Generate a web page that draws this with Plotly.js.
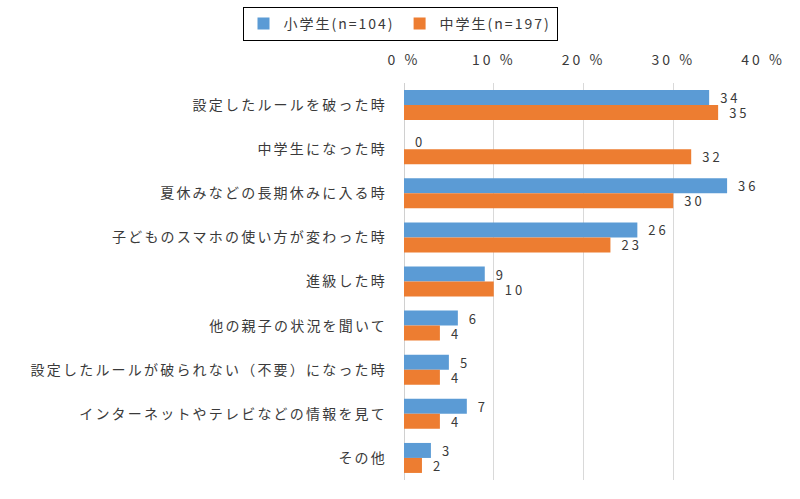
<!DOCTYPE html>
<html>
<head>
<meta charset="utf-8">
<script src="https://cdn.plot.ly/plotly-3.0.1.min.js"></script>
<style>
  html, body { margin: 0; padding: 0; background: #fff; }
  #chart { width: 800px; height: 499px; }
  .ytick text { letter-spacing: 2.2px; }
  .xtick text { letter-spacing: 3px; }
  .legendtext { letter-spacing: 2px; }
  .bartext { letter-spacing: 3px; }
</style>
</head>
<body>
<div id="chart"></div>
<script>
// Reasons for revisiting smartphone rules (%), by school level
const categories = [
  "設定したルールを破った時",
  "中学生になった時",
  "夏休みなどの長期休みに入る時",
  "子どものスマホの使い方が変わった時",
  "進級した時",
  "他の親子の状況を聞いて",
  "設定したルールが破られない（不要）になった時",
  "インターネットやテレビなどの情報を見て",
  "その他"
];
const elementary = [34, 0, 36, 26, 9, 6, 5, 7, 3];
const juniorHigh = [35, 32, 30, 23, 10, 4, 4, 4, 2];
const seriesNames = ["小学生(n=104)", "中学生(n=197)"];
const tickValues = [0, 10, 20, 30, 40];

const FONT = '"Noto Sans CJK JP", "Noto Sans", sans-serif';
const TEXT_COLOR = '#3a3a3a';
const LABEL_GAP = 8; // extra space between a bar end and its value label

function barTrace(name, values, color) {
  return {
    type: 'bar', orientation: 'h', name: name,
    y: categories, x: values,
    marker: { color: color },
    text: values.map(String), textposition: 'outside',
    constraintext: 'none',
    textfont: { family: FONT, size: 13, color: TEXT_COLOR },
    cliponaxis: false, hoverinfo: 'skip'
  };
}

const traces = [
  barTrace(seriesNames[0], elementary, '#5B9BD5'),
  barTrace(seriesNames[1], juniorHigh, '#ED7D31')
];

const layout = {
  width: 800, height: 499,
  margin: { l: 404, r: 37, t: 83, b: 19 },
  paper_bgcolor: '#fff', plot_bgcolor: '#fff',
  font: { family: FONT, color: TEXT_COLOR, size: 14 },
  barmode: 'group', bargap: 0.32, bargroupgap: 0,
  showlegend: true,
  legend: {
    orientation: 'h',
    xref: 'container', x: 0.5, xanchor: 'center',
    yref: 'container', y: 0.952, yanchor: 'middle',
    bordercolor: '#000', borderwidth: 1,
    itemwidth: 30,
    font: { family: FONT, size: 14, color: TEXT_COLOR },
    traceorder: 'normal'
  },
  xaxis: {
    side: 'top', range: [0, 40],
    tickmode: 'array', tickvals: tickValues, ticktext: tickValues.map(v => v + ' %'),
    showgrid: true, gridcolor: '#d9d9d9', gridwidth: 1,
    zeroline: true, zerolinecolor: '#d0d0d0', zerolinewidth: 1,
    showline: false, ticks: '', ticklabelstandoff: 14,
    tickfont: { family: FONT, size: 14, color: TEXT_COLOR },
    fixedrange: true
  },
  yaxis: {
    type: 'category', autorange: 'reversed',
    showgrid: false, zeroline: false, showline: false, ticks: '',
    ticklabelstandoff: 16,
    tickfont: { family: FONT, size: 14, color: TEXT_COLOR },
    fixedrange: true
  }
};

Plotly.newPlot('chart', traces, layout, { displayModeBar: false, staticPlot: true })
  .then(gd => {
    // push the value labels a little further from the bar ends
    gd.querySelectorAll('.bartext').forEach(t => {
      const tr = t.getAttribute('transform') || '';
      t.setAttribute('transform', 'translate(' + LABEL_GAP + ',0) ' + tr);
    });
  });
</script>
</body>
</html>
